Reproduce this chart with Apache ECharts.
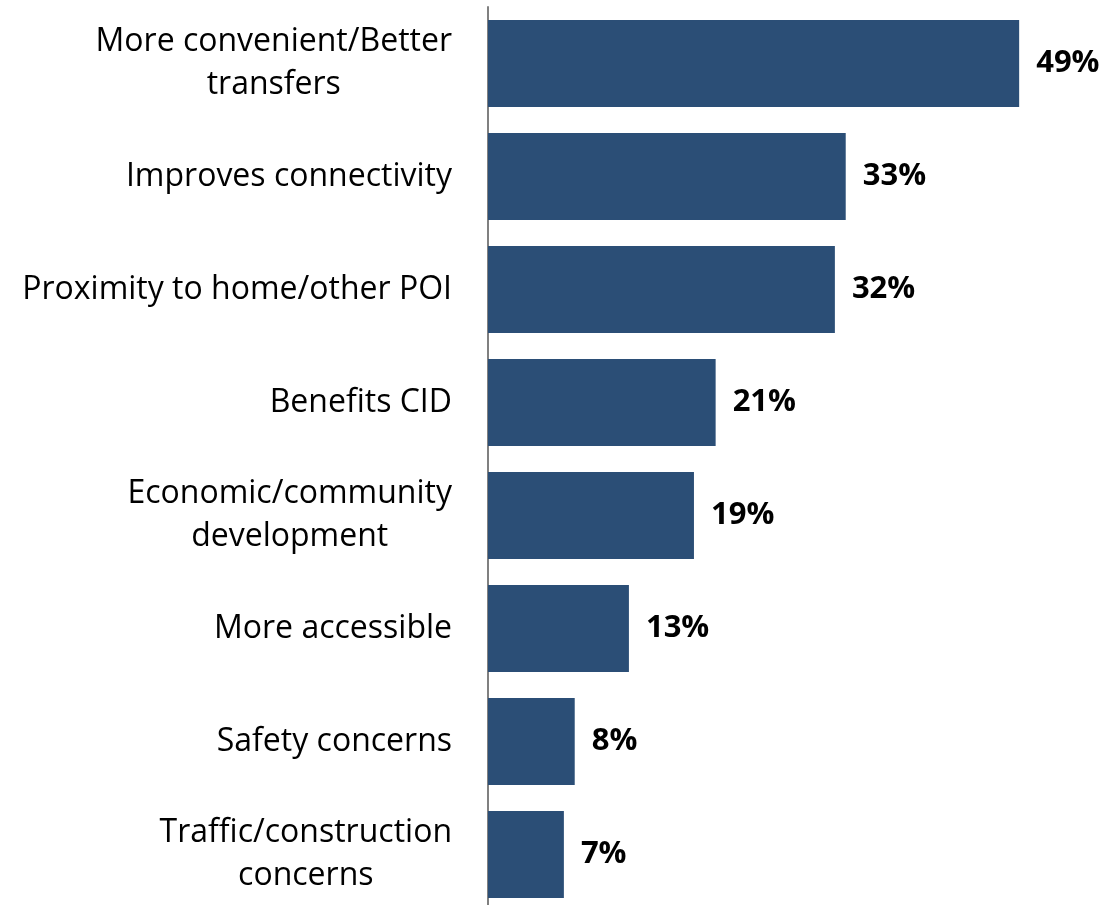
<!DOCTYPE html>
<html>
<head>
<meta charset="utf-8">
<style>
  html, body { margin: 0; padding: 0; background: #ffffff; overflow: hidden; }
  /* canvas runs a few pixels below the window so the axis line reaches the bottom edge */
  #chart { width: 1110px; height: 911px; }
</style>
<script src="https://cdn.jsdelivr.net/npm/echarts@6/dist/echarts.min.js"></script>
</head>
<body>
<div id="chart"></div>
<script>
// Reasons given, top to bottom
const categories = [
  'More convenient/Better\ntransfers',
  'Improves connectivity',
  'Proximity to home/other POI',
  'Benefits CID',
  'Economic/community\ndevelopment',
  'More accessible',
  'Safety concerns',
  'Traffic/construction\nconcerns'
];
// Share of respondents, percent
const shares = [49, 33, 32, 21, 19, 13, 8, 7];

const FONT = '"Open Sans", "Noto Sans", sans-serif';

const chart = echarts.init(document.getElementById('chart'), null, { renderer: 'canvas' });

chart.setOption({
  animation: false,
  backgroundColor: '#ffffff',
  grid: { left: 488, right: 80, top: 7, bottom: 0, containLabel: false },
  xAxis: {
    type: 'value',
    min: 0,
    max: 50,
    show: false
  },
  yAxis: {
    type: 'category',
    inverse: true,
    data: categories,
    axisLine: { show: true, lineStyle: { color: '#808080', width: 2 } },
    axisTick: { show: false },
    axisLabel: {
      margin: 36,
      align: 'right',
      // each line centred within the label block, block right-aligned to the axis
      formatter: v => v.split('\n').map(line => '{c|' + line + '}').join('\n'),
      rich: {
        c: {
          align: 'center',
          color: '#000000',
          fontFamily: FONT,
          fontSize: 32,
          lineHeight: 43
        }
      }
    }
  },
  series: [{
    type: 'bar',
    data: shares,
    barCategoryGap: '23%',
    itemStyle: { color: '#2B4E76' },
    label: {
      show: true,
      position: 'right',
      distance: 17,
      formatter: p => p.value + '%',
      color: '#000000',
      fontFamily: FONT,
      fontWeight: 'bold',
      fontSize: 31
    }
  }]
});
</script>
</body>
</html>
